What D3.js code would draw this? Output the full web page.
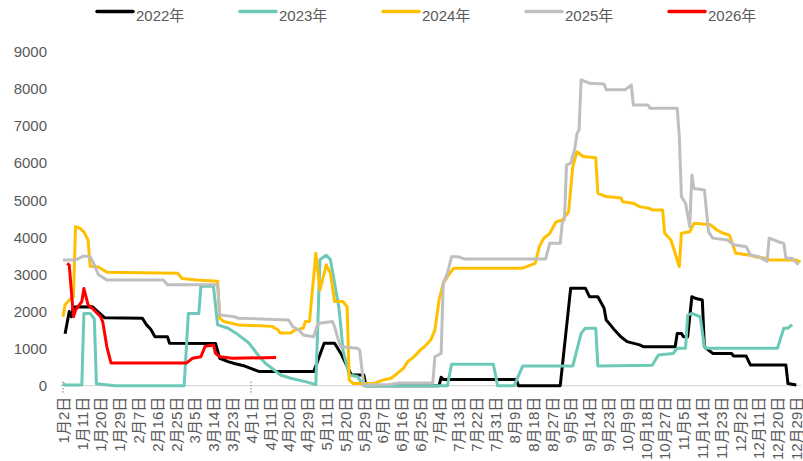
<!DOCTYPE html>
<html>
<head>
<meta charset="utf-8">
<script src="https://cdn.jsdelivr.net/npm/d3@7"></script>
<style>
  body { margin: 0; background: #fff; }
  svg { display: block; font-family: "Liberation Sans", "Noto Sans CJK SC", sans-serif; }
</style>
</head>
<body>
<div class="plot"></div>
<script>
// x categories: trading calendar dates, holidays left out
const offDays = ["4月4日", "5月1日", "5月2日", "5月3日",
  "10月1日", "10月2日", "10月3日", "10月4日", "10月5日", "10月6日", "10月7日"];
const categories = [];
for (let t = new Date(2024, 0, 2); t <= new Date(2024, 11, 31); t.setDate(t.getDate() + 1)) {
  const lab = (t.getMonth() + 1) + "月" + t.getDate() + "日";
  if (!offDays.includes(lab)) categories.push(lab);
}

const yTicks = [0, 1000, 2000, 3000, 4000, 5000, 6000, 7000, 8000, 9000];
const seriesNames = ["2022年", "2023年", "2024年", "2025年", "2026年"];
const colors = ["#000000", "#6cc9b8", "#ffc000", "#bfbfbf", "#ff0000"];

// values at the dates where each line changes
const d2022 = [["1月3日",1400],["1月5日",2000],["1月6日",1860],["1月7日",2120],["1月16日",2130],["1月22日",1830],
  ["2月9日",1820],["2月11日",1640],["2月13日",1520],["2月15日",1320],["2月21日",1320],["2月22日",1145],["3月15日",1140],
  ["3月17日",740],["3月21日",650],["3月24日",600],["3月29日",530],["4月6日",380],["5月5日",380],["5月10日",1145],
  ["5月15日",1145],["5月18日",870],["5月23日",290],["5月29日",290],["5月30日",0],["7月4日",0],["7月5日",230],
  ["7月6日",170],["8月10日",170],["8月11日",0],["8月31日",0],["9月5日",2630],["9月12日",2630],["9月14日",2400],
  ["9月18日",2400],["9月21日",2090],["9月22日",1770],["9月24日",1640],["9月26日",1500],["9月29日",1320],
  ["10月9日",1190],["10月15日",1100],["10月17日",1050],["11月1日",1050],["11月2日",1410],["11月4日",1410],
  ["11月5日",1320],["11月7日",1320],["11月9日",2400],["11月11日",2350],["11月14日",2310],["11月15日",1050],
  ["11月19日",870],["11月28日",870],["11月29日",800],["12月5日",800],["12月7日",560],["12月24日",560],
  ["12月25日",60],["12月29日",20]];

const d2023 = [["1月2日",60],["1月3日",20],["1月11日",20],["1月12日",1950],["1月15日",1950],["1月17日",1800],
  ["1月18日",50],["1月27日",0],["2月29日",0],["3月2日",1950],["3月7日",1950],["3月8日",2680],["3月14日",2680],
  ["3月16日",1640],["3月21日",1550],["3月25日",1410],["3月31日",1150],["4月6日",780],["4月9日",600],["4月12日",470],
  ["4月16日",290],["4月21日",200],["4月28日",110],["5月6日",30],["5月8日",3400],["5月11日",3520],["5月13日",3400],
  ["5月15日",2760],["5月17日",2130],["5月18日",1590],["5月19日",960],["5月21日",510],["5月22日",290],["5月26日",250],
  ["5月28日",70],["5月29日",0],["7月8日",0],["7月10日",580],["7月30日",580],["8月1日",0],["8月9日",0],
  ["8月13日",530],["9月6日",530],["9月10日",1410],["9月12日",1550],["9月17日",1550],["9月18日",530],
  ["10月21日",550],["10月24日",830],["10月31日",870],["11月2日",1010],["11月6日",1010],["11月7日",1900],
  ["11月9日",1950],["11月13日",1860],["11月15日",1050],["11月16日",1010],["12月20日",1010],["12月23日",1550],
  ["12月25日",1550],["12月27日",1650]];

const d2024 = [["1月2日",1860],["1月3日",2180],["1月5日",2310],["1月7日",2400],["1月8日",4290],["1月10日",4250],
  ["1月12日",4150],["1月14日",3930],["1月15日",3220],["1月19日",3200],["1月23日",3060],["2月26日",3030],
  ["2月28日",2890],["3月6日",2850],["3月16日",2820],["3月17日",1820],["3月19日",1730],["3月26日",1640],
  ["4月12日",1600],["4月15日",1500],["4月16日",1420],["4月21日",1420],["4月23日",1500],["4月27日",1550],
  ["4月28日",1730],["4月30日",1730],["5月6日",3570],["5月8日",2580],["5月11日",3260],["5月13日",3030],
  ["5月15日",2270],["5月19日",2270],["5月21日",2130],["5月22日",150],["5月24日",60],["6月3日",60],["6月7日",150],
  ["6月11日",200],["6月14日",330],["6月17日",470],["6月19日",650],["6月22日",780],["6月25日",960],["6月27日",1050],
  ["6月30日",1230],["7月2日",1500],["7月4日",2310],["7月6日",2760],["7月8日",2940],["7月11日",3170],
  ["8月13日",3170],["8月19日",3300],["8月21日",3750],["8月23日",3970],["8月26日",4110],["8月29日",4420],
  ["9月1日",4470],["9月4日",4690],["9月6日",5910],["9月8日",6310],["9月11日",6180],["9月17日",6150],
  ["9月18日",5190],["9月22日",5100],["9月29日",5060],["9月30日",4960],["10月12日",4920],["10月15日",4830],
  ["10月20日",4780],["10月21日",4740],["10月26日",4740],["10月27日",4110],["10月30日",3930],["11月3日",3210],
  ["11月4日",4110],["11月8日",4150],["11月10日",4380],["11月18日",4340],["11月21日",4200],["11月24日",4110],
  ["11月27日",4060],["11月30日",3570],["12月7日",3520],["12月9日",3480],["12月15日",3430],["12月16日",3390],
  ["12月29日",3390],["12月31日",3340]];

const d2025 = [["1月2日",3390],["1月8日",3390],["1月12日",3500],["1月15日",3480],["1月17日",3260],["1月19日",2990],
  ["1月23日",2850],["2月19日",2850],["2月21日",2720],["3月16日",2720],["3月17日",1910],["3月24日",1860],
  ["3月26日",1820],["4月20日",1770],["4月22日",1590],["4月25日",1500],["4月27日",1370],["5月5日",1320],
  ["5月7日",1680],["5月14日",1730],["5月15日",1590],["5月17日",1190],["5月18日",1050],["5月26日",1010],
  ["5月27日",960],["5月29日",20],["6月10日",30],["6月15日",70],["7月1日",70],["7月2日",780],["7月5日",870],
  ["7月6日",2760],["7月8日",3030],["7月10日",3480],["7月13日",3480],["7月16日",3420],["8月24日",3420],
  ["8月26日",3840],["8月31日",3840],["9月1日",4420],["9月2日",4470],["9月3日",5950],["9月5日",6000],
  ["9月7日",6400],["9月8日",6800],["9月9日",6900],["9月10日",8250],["9月14日",8160],["9月21日",8140],
  ["9月22日",7980],["10月8日",7980],["10月11日",8110],["10月12日",7570],["10月19日",7570],["10月20日",7480],
  ["11月2日",7480],["11月3日",6720],["11月4日",5100],["11月6日",4920],["11月8日",4290],["11月9日",5680],
  ["11月10日",5320],["11月15日",5280],["11月17日",4150],["11月19日",3980],["11月26日",3930],["11月29日",3800],
  ["12月5日",3750],["12月7日",3530],["12月11日",3480],["12月15日",3350],["12月16日",3980],["12月20日",3890],
  ["12月23日",3840],["12月24日",3440],["12月27日",3440],["12月30日",3260]];

const d2026 = [["1月4日",3300],["1月5日",3250],["1月7日",1860],["1月8日",2040],["1月11日",2270],["1月12日",2620],
  ["1月14日",2180],["1月16日",2090],["1月20日",1860],["1月21日",1730],["1月23日",1050],["1月25日",610],
  ["3月1日",610],["3月4日",740],["3月8日",780],["3月10日",1060],["3月14日",1100],["3月15日",870],
  ["3月17日",780],["3月23日",740],["4月14日",760]];

const allSeries = [d2022, d2023, d2024, d2025, d2026];

const W = 803, H = 461;
const svg = d3.select(".plot")
  .append("svg")
    .attr("width", W)
    .attr("height", H);

const x = d3.scalePoint().domain(categories).range([63, 800.5]);
const y = d3.scaleLinear().domain([0, 9000]).range([385.7, 52]);

// y labels (no axis line)
svg.append("g")
  .selectAll("text")
  .data(yTicks)
  .enter()
  .append("text")
    .attr("x", 47)
    .attr("y", d => y(d))
    .attr("dy", "0.35em")
    .attr("text-anchor", "end")
    .style("font-size", "15px")
    .style("fill", "#595959")
    .text(d => d);

// x axis
const xAxis = svg.append("g")
  .attr("transform", "translate(0," + y(0) + ")")
  .call(d3.axisBottom(x)
    .tickValues(categories.filter((d, i) => i % 9 === 0))
    .tickSize(0)
    .tickPadding(0));
xAxis.select(".domain")
  .attr("d", "M60,0H801")
  .attr("stroke", "#d9d9d9")
  .attr("stroke-width", 1.3);
xAxis.selectAll("text")
  .attr("transform", "rotate(-90)")
  .attr("x", -11)
  .attr("y", 0)
  .attr("dy", "0.35em")
  .style("text-anchor", "end")
  .style("font-size", "15px")
  .style("font-family", "\"Liberation Sans\", \"Noto Sans CJK SC\", sans-serif")
  .style("fill", "#595959");

// dotted marks on the axis
svg.selectAll(".mark")
  .data(["1月2日", "4月1日"])
  .enter()
  .append("line")
    .attr("class", "mark")
    .attr("x1", d => x(d))
    .attr("x2", d => x(d))
    .attr("y1", y(0) - 4)
    .attr("y2", y(0) + 8)
    .attr("stroke", "#7f7f7f")
    .attr("stroke-width", 1.2)
    .attr("stroke-dasharray", "1.2,2");

// lines
const line = d3.line()
  .x(d => x(d[0]))
  .y(d => y(d[1]));

allSeries.forEach((s, i) => {
  svg.append("path")
    .datum(s)
    .attr("fill", "none")
    .attr("stroke", colors[i])
    .attr("stroke-width", 3)
    .attr("stroke-linejoin", "round")
    .attr("d", line);
});

// legend
const legend = svg.append("g").attr("id", "legend");
seriesNames.forEach((name, i) => {
  const lx = 97 + i * 143;
  legend.append("line")
    .attr("x1", lx).attr("x2", lx + 36)
    .attr("y1", 11.5).attr("y2", 11.5)
    .attr("stroke", colors[i])
    .attr("stroke-width", 3.5)
    .attr("stroke-linecap", "round");
  legend.append("text")
    .attr("x", lx + 39)
    .attr("y", 21)
    .style("font-size", "15px")
    .style("fill", "#595959")
    .text(name);
});
</script>
</body>
</html>
